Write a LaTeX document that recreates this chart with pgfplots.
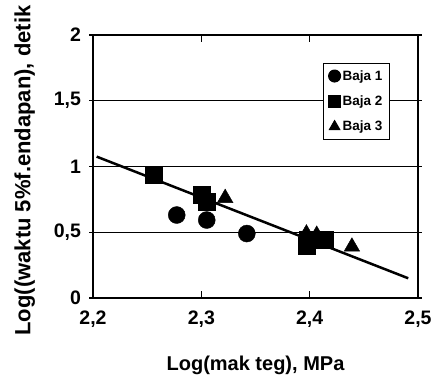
\documentclass[border=0pt]{standalone}
\usepackage{pgfplots}
\pgfplotsset{compat=1.18}
\usepackage{fontspec}
\setmainfont{Liberation Sans}
\begin{document}
\begin{tikzpicture}
\begin{axis}[
  scale only axis,
  width=325pt, height=263pt,
  xmin=2.2, xmax=2.5, ymin=0, ymax=2,
  xtick={2.2,2.3,2.4,2.5}, ytick={0,0.5,1,1.5,2},
  xticklabels={2{,}2,2{,}3,2{,}4,2{,}5},
  yticklabels={0,0{,}5,1,1{,}5,2},
  ymajorgrids, grid style={black, line width=0.7pt},
  axis line style={line width=1.5pt},
  tick style={black, line width=1.2pt},
  major tick length=7pt,
  ytick align=center, xtick align=inside,
  ticklabel style={font=\fontsize{19.5}{20}\selectfont\bfseries},
  xticklabel style={yshift=-9pt},
  yticklabel style={xshift=-5pt},
  xlabel={\fontsize{20}{20}\selectfont\bfseries Log(mak teg), MPa},
  ylabel={\fontsize{22}{22}\selectfont\bfseries Log((waktu 5\%f.endapan), detik},
  xlabel style={at={(axis description cs:0.5,-0.255)}, anchor=center},
  ylabel style={at={(axis description cs:-0.21,0.485)}, anchor=center},
  legend style={at={(0.708,0.894)}, anchor=north west, draw=black, line width=1pt,
    font=\fontsize{13.5}{15}\selectfont\bfseries, row sep=10pt, inner sep=5pt},
  legend image post style={mark size=6pt},
  legend cell align=left,
]
\addplot[only marks, mark=*, mark size=8.5pt, black] coordinates {
 (2.2773,0.631) (2.305,0.593) (2.342,0.49)
};
\addlegendentry{Baja 1}
\addplot[only marks, mark=square*, mark size=8.5pt, black] coordinates {
 (2.2557,0.935) (2.300,0.785) (2.305,0.735) (2.397,0.40) (2.398,0.44) (2.414,0.44)
};
\addlegendentry{Baja 2}
\addplot[only marks, mark=triangle*, mark size=9pt, black] coordinates {
 (2.322,0.76) (2.397,0.49) (2.4065,0.48) (2.439,0.39)
};
\addlegendentry{Baja 3}
\addplot[black, line width=2.5pt, forget plot] coordinates {(2.2034,1.075) (2.491,0.15)};
\end{axis}
\pgfresetboundingbox
\path[use as bounding box] ([shift={(-93pt,-82pt)}]current axis.south west) rectangle ([shift={(17pt,35pt)}]current axis.north east);
\end{tikzpicture}
\end{document}
